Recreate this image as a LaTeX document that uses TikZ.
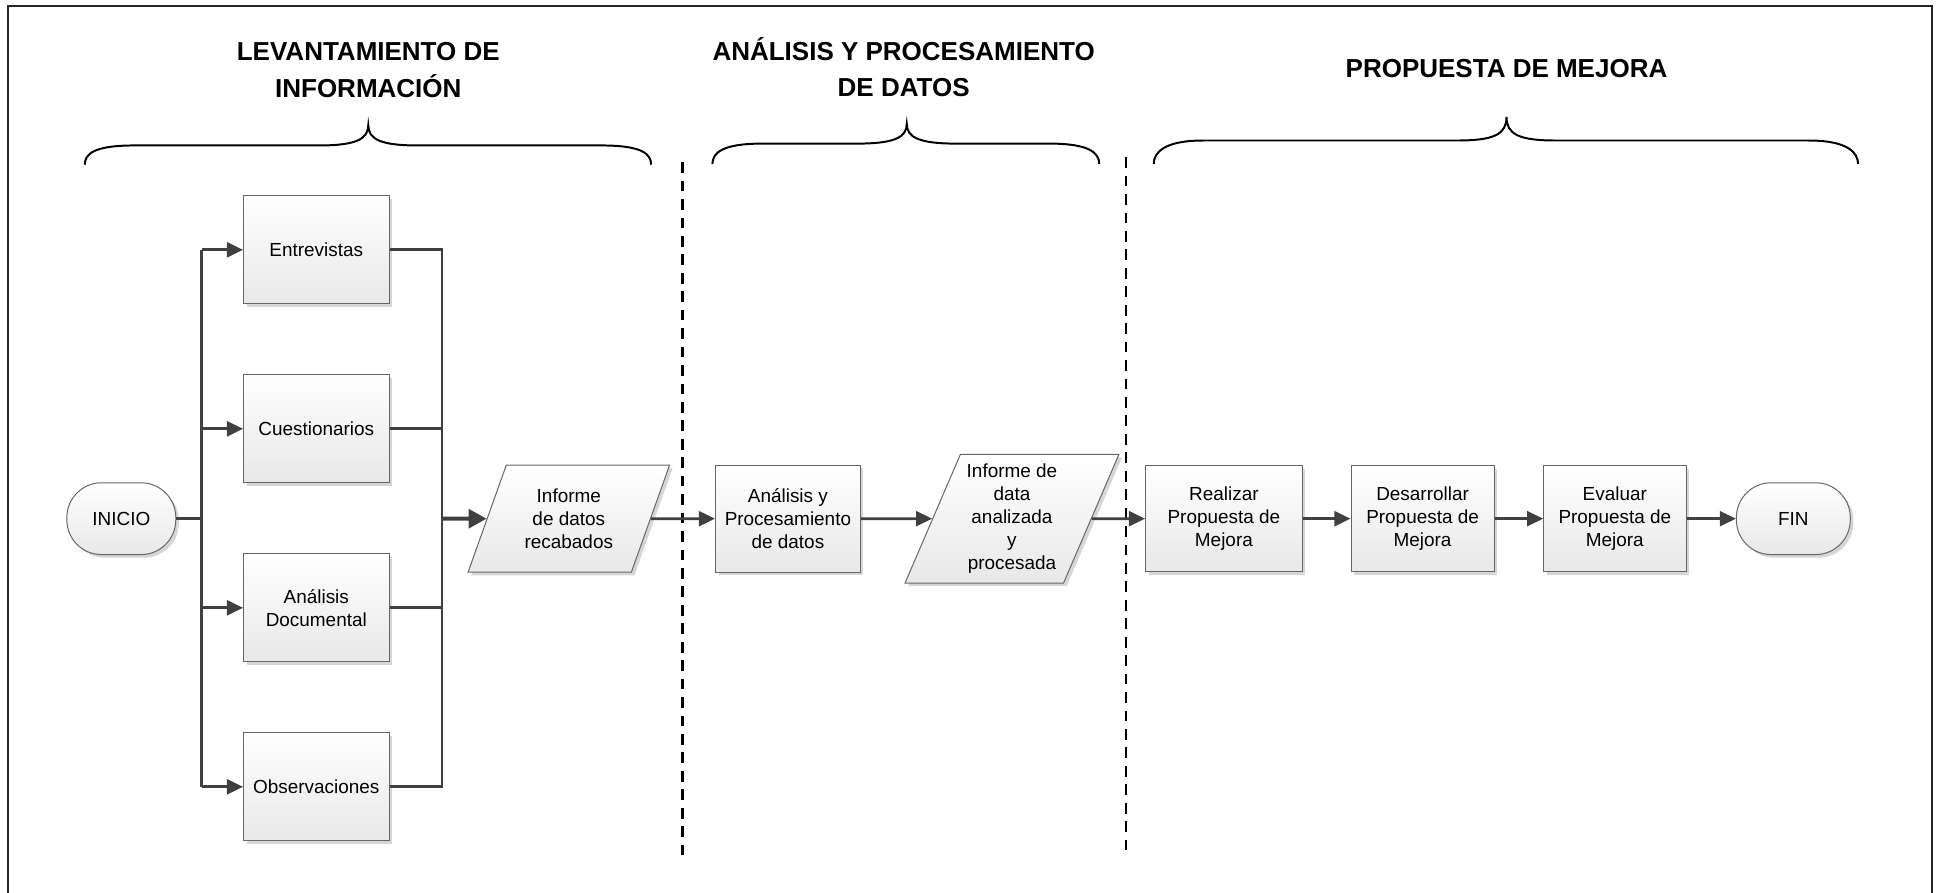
\documentclass[tikz,border=0pt]{standalone}
\usepackage{fontspec}
\setmainfont{Liberation Sans}
\usetikzlibrary{shapes.geometric,arrows.meta,shadows}

% Curly brace opening downwards: x-left, x-tip, x-right, y-flat, y-tip, y-ends
\newcommand\drawupbrace[6]{%
  \draw[bracestyle] ({#1},{#6}) .. controls ({#1},{#6-9}) and ({#1+8},{#4}) .. ({#1+40},{#4})
    -- ({#2-40},{#4}) .. controls ({#2-10},{#4}) and ({#2},{#4-5}) .. ({#2},{#5})
    .. controls ({#2},{#4-5}) and ({#2+10},{#4}) .. ({#2+40},{#4})
    -- ({#3-40},{#4}) .. controls ({#3-8},{#4}) and ({#3},{#6-9}) .. ({#3},{#6});}

\begin{document}
\begin{tikzpicture}[x=1pt,y=-1pt,
  every node/.style={font=\fontsize{15.3}{18.6}\selectfont, align=center},
  flowshadow/.style={drop shadow={shadow xshift=2.5pt,shadow yshift=-2.5pt,fill=black!16,opacity=1}},
  shapebase/.style={draw=black!60, line width=0.8pt, top color=white, bottom color=black!9, flowshadow},
  procbox/.style={shapebase, rectangle, minimum width=117.5pt, minimum height=87.5pt, inner sep=2pt},
  databox/.style={shapebase, trapezium, trapezium left angle=66, trapezium right angle=114,
    trapezium stretches=true, inner sep=1pt},
  termbox/.style={shapebase, rectangle, rounded corners=28pt, minimum height=58pt},
  titletext/.style={font=\bfseries\fontsize{21}{29.3}\selectfont, inner sep=0pt},
  conn/.style={draw=black!75, line width=2.2pt},
  flow/.style={conn, -{Triangle[length=13pt,width=12pt]}},
  flowheavy/.style={draw=black!75, line width=3.2pt, -{Triangle[length=14.5pt,width=15pt]}},
  sepline/.style={line width=2pt, dash pattern=on 8.7pt off 6.2pt},
  bracestyle/.style={line width=1.6pt}
]
\useasboundingbox (0,0) rectangle (1568,721);

% outer frame (open at the bottom)
\draw[line width=1.6pt, black!85] (6.5,721) -- (6.5,4.5) -- (1560.5,4.5) -- (1560.5,721);

% stage titles
\node[titletext] (t1) at (297.5,56.5) {LEVANTAMIENTO DE\\INFORMACIÓN};
\node[titletext] (t2) at (730,54) {ANÁLISIS Y PROCESAMIENTO\\DE DATOS};
\node[titletext] (t3) at (1217,55) {PROPUESTA DE MEJORA};

% braces under the titles
\drawupbrace{68.5}{297.5}{526}{117.5}{101}{133}
\drawupbrace{575.5}{732.5}{888}{116}{100}{132.5}
\drawupbrace{932}{1217}{1501}{113.5}{94.5}{132.5}

% stage separators
\draw[sepline] (551.5,131) -- (551.5,697);
\draw[sepline] (909.5,127) -- (909.5,693);

% flow elements
\node[termbox, minimum width=88pt] (inicio) at (98,419) {INICIO};
\node[procbox] (entr) at (255.5,201.8) {Entrevistas};
\node[procbox] (cues) at (255.5,346.4) {Cuestionarios};
\node[procbox] (adoc) at (255.5,491) {Análisis\\Documental};
\node[procbox] (obse) at (255.5,635.6) {Observaciones};
\node[databox, minimum width=163pt, minimum height=86.5pt] (irec) at (459.5,419) {Informe\\de datos\\recabados};
\node[procbox, minimum width=117pt, minimum height=86.5pt] (apro) at (636.5,419) {Análisis y\\Procesamiento\\de datos};
\node[databox, minimum width=173pt, minimum height=104pt] (iana) at (817.5,419) {Informe de\\data\\analizada\\y\\procesada};
\node[procbox, minimum width=126.6pt, minimum height=86pt] (real) at (988.7,419) {Realizar\\Propuesta de\\Mejora};
\node[procbox, minimum width=115.6pt, minimum height=86pt] (desa) at (1149.2,419) {Desarrollar\\Propuesta de\\Mejora};
\node[procbox, minimum width=115pt, minimum height=86pt] (eval) at (1304.5,419) {Evaluar\\Propuesta de\\Mejora};
\node[termbox, minimum width=92pt] (fin) at (1448.7,419) {FIN};

% distribution and collection buses
\coordinate (busl) at (163,419);
\coordinate (busr) at (357,419);
\draw[conn] (inicio) -- (busl);
\draw[conn] (busl |- entr) -- (busl |- obse);
\foreach \n in {entr,cues,adoc,obse} \draw[flow] (busl |- \n) -- (\n);
\draw[conn] (entr.east) -- (entr.east -| busr) -- (obse.east -| busr) -- (obse.east);
\draw[conn] (cues.east) -- (cues.east -| busr);
\draw[conn] (adoc.east) -- (adoc.east -| busr);
\draw[flowheavy] (busr) -- (irec);

% main sequence
\draw[flow] (irec) -- (apro);
\draw[flow] (apro) -- (iana);
\draw[flow] (iana) -- (real);
\draw[flow] (real) -- (desa);
\draw[flow] (desa) -- (eval);
\draw[flow] (eval) -- (fin);
\end{tikzpicture}
\end{document}
